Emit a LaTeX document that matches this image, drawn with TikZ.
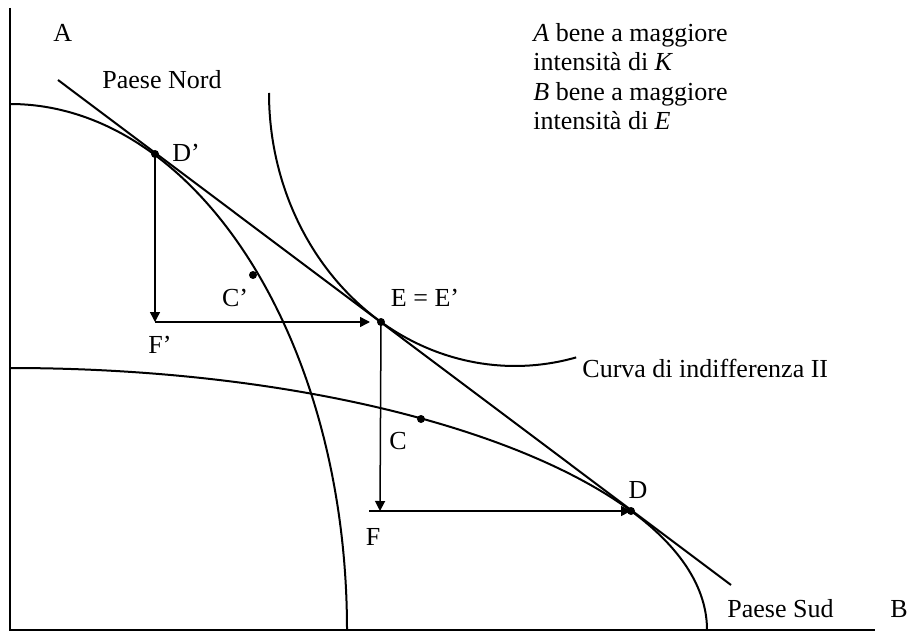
\documentclass[tikz,border=0pt]{standalone}
\usepackage{fontspec}
\setmainfont{Liberation Serif}
\usetikzlibrary{arrows.meta}
\tikzset{
    axis line/.style={line width=1pt},
    curve line/.style={line width=1pt},
    move arrow/.style={line width=0.75pt, -{Triangle[length=5pt, width=5pt]}},
    point dot/.style={circle, fill, inner sep=0pt, minimum size=4pt},
    plot label/.style={font=\fontsize{13}{14.75}\selectfont, inner sep=0pt},
}

\begin{document}
\begin{tikzpicture}[x=0.5pt, y=0.5pt]
    \useasboundingbox (-10,-3) rectangle (903,630);
    \coordinate (O) at (0,0);
    \coordinate (ytop) at (0,622);
    \coordinate (xend) at (865,0);
    \draw[axis line] (ytop) -- (O) -- (xend);

    \draw[curve line] (0,526) arc[start angle=90, end angle=0, x radius=337, y radius=526];
    \draw[curve line] (0,262) arc[start angle=90, end angle=0, x radius=697, y radius=262];
    \draw[curve line] (259,537) arc[start angle=180, end angle=284.4, x radius=246, y radius=273];

    \coordinate (pstart) at (48,550);
    \coordinate (pend) at (721,45);
    \draw[curve line] (pstart) -- (pend);

    \node[point dot] (Dp) at (145,476) {};
    \node[point dot] (E) at (371,308) {};
    \node[point dot] (D) at (621,119) {};
    \node[point dot] (Cp) at (243,355) {};
    \node[point dot] (C) at (411,211) {};
    \coordinate (Fp) at (145,308);
    \coordinate (F) at (370,119);
    \coordinate (Fl) at (359,119);

    \draw[move arrow] (Dp.center) -- (Fp);
    \draw[move arrow, shorten >=5.5pt] (Fp) -- (E.center);
    \draw[move arrow] (E.center) -- (F);
    \draw[move arrow] (Fl) -- (D.center);

    \node[plot label, anchor=base west] (labA) at (43,588) {A};
    \node[plot label, anchor=base west] (labB) at (880,13) {B};
    \node[plot label, anchor=base west] (nord) at (92,541) {Paese Nord};
    \node[plot label, anchor=base west] (sud) at (717,13) {Paese Sud};
    \node[plot label, anchor=base west] (curva) at (572,253) {Curva di indifferenza II};
    \node[plot label] (labDp) at (176,477) {D’};
    \node[plot label] (labCp) at (225,332) {C’};
    \node[plot label] (labFp) at (150,285) {F’};
    \node[plot label] (labE) at (415,332) {E = E’};
    \node[plot label] (labC) at (388,189) {C};
    \node[plot label] (labF) at (363,93) {F};
    \node[plot label] (labD) at (628,140) {D};
    \node[plot label, anchor=base west, align=left] (legend) at (523,500)
        {\textit{A} bene a maggiore\\ intensità di \textit{K}\\ \textit{B} bene a maggiore\\ intensità di \textit{E}};
\end{tikzpicture}
\end{document}
